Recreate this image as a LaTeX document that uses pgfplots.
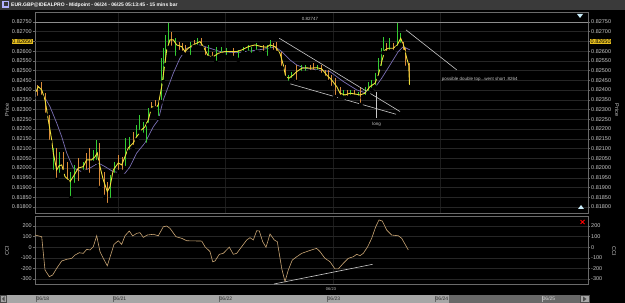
\documentclass[border=0pt]{standalone}
\usepackage{pgfplots}
\pgfplotsset{compat=1.18}
\usepackage{pgfplotstable}
\usepackage{fontspec}
\setmainfont{Liberation Sans}
\definecolor{gridc}{HTML}{262626}
\definecolor{vgridc}{HTML}{1C1C1C}
\definecolor{framec}{HTML}{6A6A6A}
\definecolor{labc}{HTML}{C8C8C8}
\definecolor{upc}{HTML}{33CC33}
\definecolor{dnc}{HTML}{D98A3A}
\definecolor{closec}{HTML}{F0E03A}
\definecolor{mac}{HTML}{7A6FB5}
\definecolor{trendc}{HTML}{C8C8C8}
\definecolor{ccic}{HTML}{C9A574}
\definecolor{hly}{HTML}{E8C020}
\definecolor{titlec}{HTML}{3A3A3A}
\definecolor{scrollc}{HTML}{A6A6A6}
\definecolor{scrolld}{HTML}{686868}

\pgfplotstableread{
x p
36 0.82392
38.3 0.82418
41.7 0.82401
45 0.82350
48.3 0.82247
51.7 0.82144
53.3 0.82077
56.7 0.81990
59 0.82011
61.7 0.82016
65 0.81956
70 0.81930
73.3 0.81956
78.3 0.82000
83.3 0.82007
86.7 0.82042
91.7 0.82042
95 0.82058
97.3 0.82077
100 0.82007
103.3 0.81939
107.3 0.81879
110 0.81904
113.3 0.81990
118.3 0.82026
121.7 0.82016
125 0.82058
128.3 0.82103
133.3 0.82129
136.7 0.82161
141.7 0.82196
145 0.82212
148.3 0.82247
151.7 0.82314
156.7 0.82314
158.3 0.82324
161.7 0.82418
164 0.82504
166.7 0.82606
170 0.82658
173.3 0.82658
176.7 0.82632
181.7 0.82623
185 0.82598
188.3 0.82615
193.3 0.82632
200 0.82649
203.3 0.82623
208.3 0.82575
213.3 0.82572
218.3 0.82589
225 0.82598
230 0.82598
236.7 0.82598
241.7 0.82606
248.3 0.82623
255 0.82632
261.7 0.82623
266.7 0.82620
270 0.82632
275 0.82623
280 0.82589
283.3 0.82529
285.7 0.82469
289 0.82461
293.3 0.82478
296.7 0.82495
301.7 0.82512
306.7 0.82515
310 0.82512
316.7 0.82515
321.7 0.82509
326.7 0.82478
331.7 0.82452
336.7 0.82418
340 0.82384
345 0.82375
350 0.82384
355 0.82380
360 0.82375
365 0.82384
370 0.82418
375 0.82435
378.3 0.82478
381.7 0.82546
385 0.82606
388.3 0.82615
393.3 0.82615
397.3 0.82632
400.7 0.82666
404 0.82623
406.7 0.82564
408.7 0.82529
409.5 0.82426
}\closetab

\pgfplotstableread{
x p
45 0.82360
50 0.82315
56.7 0.82231
61.7 0.82161
66.7 0.82077
73.3 0.82000
81.7 0.81981
90 0.82000
98.3 0.82026
105 0.82007
113.3 0.81981
125 0.81973
130 0.82007
136.7 0.82077
145 0.82129
153.3 0.82212
158.3 0.82247
163.3 0.82350
168.3 0.82418
173.3 0.82487
180 0.82564
186.7 0.82615
200 0.82632
210 0.82615
220 0.82598
236.7 0.82592
253.3 0.82603
270 0.82615
275 0.82623
281.7 0.82598
290 0.82555
296.7 0.82529
305 0.82512
316.7 0.82504
330 0.82495
343.3 0.82444
356.7 0.82401
366.7 0.82384
373.3 0.82401
381.7 0.82461
390 0.82529
398.3 0.82598
403.3 0.82623
410 0.82606
}\matab

\pgfplotstableread{
x lo hi
37.7 0.82360 0.82427
41.7 0.82365 0.82442
45.7 0.82273 0.82385
50 0.82134 0.82273
56.7 0.81939 0.82103
63.3 0.81980 0.82083
67.3 0.81929 0.82031
79 0.81923 0.82052
86.7 0.81980 0.82077
90 0.81965 0.82103
100 0.81898 0.82129
105 0.81852 0.81980
107.7 0.81810 0.81929
119 0.81980 0.82067
122.3 0.81980 0.82057
133.3 0.82108 0.82185
151.7 0.82298 0.82339
155 0.82308 0.82350
171.7 0.82617 0.82699
179 0.82596 0.82647
182.3 0.82591 0.82642
185.7 0.82581 0.82632
194 0.82622 0.82658
201.7 0.82617 0.82668
205 0.82570 0.82622
212.3 0.82565 0.82596
233.3 0.82565 0.82617
263.3 0.82591 0.82632
273.3 0.82596 0.82642
276.7 0.82591 0.82647
281.7 0.82514 0.82596
285 0.82463 0.82529
296.7 0.82442 0.82529
310 0.82493 0.82529
313.3 0.82493 0.82540
321.7 0.82478 0.82529
325 0.82463 0.82504
328.3 0.82442 0.82504
331.7 0.82411 0.82478
335 0.82365 0.82463
340 0.82365 0.82416
347.3 0.82360 0.82401
354.3 0.82365 0.82401
360.7 0.82324 0.82416
386 0.82591 0.82642
393.3 0.82596 0.82642
403.3 0.82596 0.82647
405.7 0.82514 0.82617
409 0.82416 0.82540
}\dntab

\pgfplotstableread{
x lo hi
53.3 0.81980 0.82103
60 0.81965 0.82083
71 0.81846 0.81980
74.3 0.81913 0.82016
83.3 0.81980 0.82031
93.3 0.82026 0.82093
96.7 0.82031 0.82144
111 0.81836 0.81965
115 0.81965 0.82031
125.7 0.82000 0.82154
129.3 0.82083 0.82160
136.7 0.82144 0.82221
140 0.82185 0.82273
143.3 0.82170 0.82237
146.7 0.82119 0.82237
148.3 0.82221 0.82308
158.3 0.82257 0.82324
161 0.82339 0.82565
163.3 0.82442 0.82617
165.7 0.82529 0.82683
168.3 0.82617 0.82747
175.7 0.82565 0.82668
190 0.82570 0.82647
197.7 0.82622 0.82668
208.3 0.82565 0.82632
216 0.82540 0.82622
221.7 0.82581 0.82622
226.7 0.82570 0.82617
238.3 0.82555 0.82606
243.3 0.82591 0.82622
248.3 0.82591 0.82632
251.7 0.82581 0.82622
256.7 0.82596 0.82642
267.3 0.82565 0.82632
270 0.82606 0.82658
288.3 0.82437 0.82478
291.7 0.82452 0.82493
301 0.82488 0.82529
305.7 0.82488 0.82529
317.3 0.82493 0.82529
343.3 0.82360 0.82401
350.7 0.82365 0.82401
358.3 0.82360 0.82390
365 0.82365 0.82416
368.3 0.82385 0.82442
371.7 0.82401 0.82452
375 0.82416 0.82488
378.3 0.82463 0.82565
381 0.82514 0.82617
383.3 0.82591 0.82673
389.3 0.82596 0.82668
397.3 0.82617 0.82745
400.7 0.82632 0.82694
}\uptab

\pgfplotstableread{
x v
35 115
41.7 99
45 -215
49.3 -278
52.7 -262
56.7 -199
61.7 -130
66.7 -114
71.7 -105
75 -74
79.3 -52
83.3 -58
86.7 -20
90 -26
93.3 5
96.7 108
100 -42
103.3 -105
107.3 -175
110.7 -74
114 27
118.3 61
121.7 27
125 108
129.3 153
132.7 106
136.7 131
140 137
143.3 93
147.3 115
153.3 122
158.3 108
163.3 193
166.7 200
170 178
176 99
181.7 84
186.7 61
201.7 58
205 5
210 -42
212.7 -137
215 -130
219.3 -67
223.3 -58
229.3 1
233.3 -67
236.7 -58
241.7 5
246.7 68
250 90
253.3 68
256.7 156
259.3 153
262.7 52
266 -1
270 125
274.3 68
277.3 52
281.7 -199
285 -325
288.3 -215
292.3 -121
296.7 -90
301.7 -58
308.3 -36
313.3 -20
316.7 -11
320 -42
325 -105
330 -137
335 -205
338.3 -205
343.3 -152
348.3 -105
353.3 -90
356.7 -67
360 -80
363.3 -58
367.7 5
371.7 84
375.7 193
379 257
382.3 247
386.7 162
391.7 115
398.3 108
401.7 84
408.3 -26
}\ccitab

\pgfplotsset{
  tl/.style={font=\fontsize{5.5}{6}\selectfont, text=labc},
  mainax/.style={at={(35pt,90pt)}, anchor=south west, scale only axis,
    width=553pt, height=201pt,
    xmin=35, xmax=588, ymin=0.81769, ymax=0.82801,
    scaled y ticks=false,
    ytick={0.818,0.8185,0.819,0.8195,0.82,0.8205,0.821,0.8215,0.822,0.8225,0.823,0.8235,0.824,0.8245,0.825,0.8255,0.826,0.827,0.8275},
    extra y ticks={0.8265},
    yticklabel style={tl, inner sep=1pt,
      /pgf/number format/fixed, /pgf/number format/fixed zerofill,
      /pgf/number format/precision=5, /pgf/number format/assume math mode=true},
    extra y tick style={yticklabel style={fill=hly, text=black, inner sep=0.5pt}},
    tick align=outside, major tick length=2pt,
    tick style={framec, line width=0.4pt},
    axis line style={framec, line width=0.5pt},
  },
  cciax/.style={at={(35pt,18.7pt)}, anchor=south west, scale only axis,
    width=553pt, height=67.6pt,
    xmin=35, xmax=588, ymin=-350, ymax=288,
    ytick={-300,-200,-100,0,100,200},
    yticklabel style={tl, inner sep=1pt, /pgf/number format/assume math mode=true},
    tick align=outside, major tick length=2pt,
    tick style={framec, line width=0.4pt},
    axis line style={framec, line width=0.5pt},
  },
}

\begin{document}
\begin{tikzpicture}
\useasboundingbox (0pt,0pt) rectangle (625pt,303pt);
\fill[black] (0pt,0pt) rectangle (625pt,303pt);
% title bar
\fill[titlec] (0pt,293pt) rectangle (625pt,303pt);
\fill[white!70!blue] (2pt,295pt) rectangle (9pt,302pt);
\fill[titlec] (3.5pt,296.5pt) rectangle (7.5pt,300.5pt);
\node[anchor=west, text=white, font=\fontsize{5}{6}\selectfont\bfseries, inner sep=0pt] at (11pt,298pt) {EUR.GBP@IDEALPRO - Midpoint - 06/24 - 06/25 05:13:45 - 15 mins bar};

% main price panel
\begin{axis}[mainax, ytick pos=left, yticklabel pos=left,
  xtick={118,225,333,440}, xticklabels={}, xtick style={draw=none},
  ymajorgrids, xmajorgrids, y grid style={gridc, line width=0.4pt},
  x grid style={vgridc, line width=0.4pt}]
\addplot[draw=white!55!black, line width=0.5pt] coordinates {(35,0.82747) (588,0.82747)};
\addplot[mac, line width=0.7pt] table[x=x, y=p] \matab;
\addplot[only marks, mark=none, error bars/.cd, y dir=plus, y explicit, error mark=none,
  error bar style={draw=dnc, solid, line width=1pt}]
  table[x=x, y=lo, y error plus expr=\thisrow{hi}-\thisrow{lo}] \dntab;
\addplot[only marks, mark=none, error bars/.cd, y dir=plus, y explicit, error mark=none,
  error bar style={draw=upc, solid, line width=1pt}]
  table[x=x, y=lo, y error plus expr=\thisrow{hi}-\thisrow{lo}] \uptab;
\addplot[closec, line width=0.9pt] table[x=x, y=p] \closetab;
% trend lines
\addplot[trendc, line width=0.6pt] coordinates {(279.3,0.82666) (400,0.82290)};
\addplot[trendc, line width=0.6pt] coordinates {(288.3,0.82435) (396,0.82276)};
\addplot[trendc, line width=0.6pt] coordinates {(376.7,0.82392) (376.7,0.82256)};
\addplot[trendc, line width=0.6pt] coordinates {(406,0.82709) (456.7,0.82504)};
\node[text=labc, font=\fontsize{4.5}{5}\selectfont, inner sep=0pt] at (axis cs:376.7,0.82225) {long};
\node[text=labc, font=\fontsize{4.5}{5}\selectfont, inner sep=0pt, anchor=west] at (axis cs:441.7,0.82457) {possible double top...went short .8264};
\node[text=labc, font=\fontsize{4.5}{5}\selectfont, inner sep=0pt] at (axis cs:310,0.82765) {0.82747};
\end{axis}
\begin{axis}[mainax, axis x line=none, axis y line*=right, ytick pos=right, yticklabel pos=right]
\end{axis}

% CCI panel
\begin{axis}[cciax, ytick pos=left, yticklabel pos=left,
  xtick={333}, xticklabels={}, xtick style={draw=none},
  ymajorgrids, xmajorgrids, y grid style={gridc, line width=0.4pt},
  x grid style={vgridc, line width=0.4pt}]
\addplot[ccic, line width=0.6pt] table[x=x, y=v] \ccitab;
\addplot[trendc, line width=0.6pt] coordinates {(274,-347) (372.7,-161)};
\end{axis}
\begin{axis}[cciax, axis x line=none, axis y line*=right, ytick pos=right, yticklabel pos=right]
\end{axis}

% side labels
\node[rotate=90, text=labc, font=\fontsize{5.5}{6}\selectfont] at (7pt,193pt) {Price};
\node[rotate=-90, text=labc, font=\fontsize{5.5}{6}\selectfont] at (617pt,193pt) {Price};
\node[rotate=90, text=labc, font=\fontsize{5.5}{6}\selectfont] at (7pt,52pt) {CCI};
\node[rotate=-90, text=labc, font=\fontsize{5.5}{6}\selectfont] at (614pt,52pt) {CCI};
\node[text=labc, font=\fontsize{4}{5}\selectfont, inner sep=0pt] at (331pt,14pt) {06/23};

% markers
\fill[white!80!cyan] (577pt,289pt) -- (583pt,289pt) -- (580pt,285pt) -- cycle;
\fill[white!80!cyan] (578pt,94pt) -- (584pt,94pt) -- (581pt,98pt) -- cycle;
\draw[red, line width=1pt] (580.5pt,79pt) -- (584.5pt,83pt) (580.5pt,83pt) -- (584.5pt,79pt);

% scrollbar
\fill[scrollc] (0pt,0pt) rectangle (449pt,8pt);
\fill[scrolld] (449pt,0pt) rectangle (580pt,8pt);
\fill[scrollc] (580pt,0pt) rectangle (590pt,8pt);
\draw[black!70] (0.5pt,0.5pt) rectangle (6pt,7.5pt);
\fill[black!70] (4.5pt,1.5pt) -- (4.5pt,6.5pt) -- (2pt,4pt) -- cycle;
\draw[black!70] (580.5pt,0.5pt) rectangle (589.5pt,7.5pt);
\fill[black!70] (583pt,1.5pt) -- (583pt,6.5pt) -- (586.5pt,4pt) -- cycle;
\foreach \xx/\lab in {36/{06/18}, 113/{06/21}, 219/{06/22}, 327/{06/23}, 435/{06/24}} {
  \draw[black!60, line width=0.4pt] (\xx pt,1pt) -- (\xx pt,7pt);
  \node[anchor=west, text=black!85, font=\fontsize{5}{6}\selectfont, inner sep=0.5pt] at (\xx pt,4pt) {\lab};
}
\draw[black!30, line width=0.4pt] (542pt,1pt) -- (542pt,7pt);
\node[anchor=west, text=black!15, font=\fontsize{5}{6}\selectfont, inner sep=0.5pt] at (542pt,4pt) {06/25};
\end{tikzpicture}
\end{document}
